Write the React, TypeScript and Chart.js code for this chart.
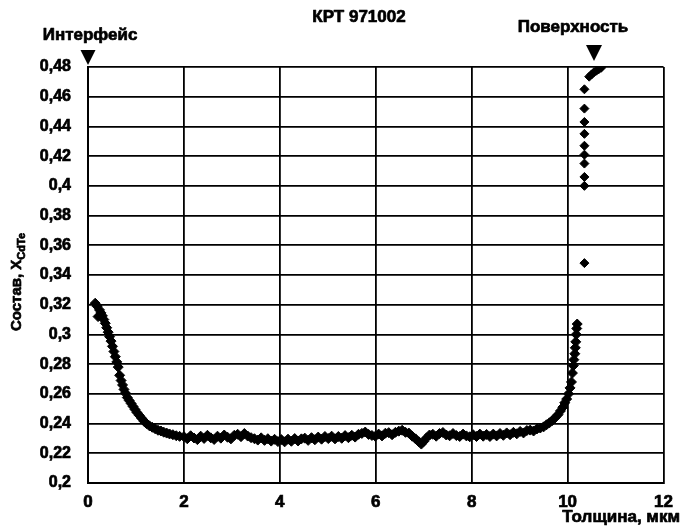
import { useEffect, useRef } from 'react';
import { Chart, registerables } from 'chart.js';

Chart.register(...registerables);

// Labels
const chartTitle = 'КРТ 971002';
const interfaceLabel = 'Интерфейс';
const surfaceLabel = 'Поверхность';
const xAxisTitle = 'Толщина, мкм';
const yAxisTitleMain = 'Состав, X';
const yAxisTitleSub = 'CdTe';

// Where the interface / surface markers sit along the thickness axis (µm)
const interfaceAt = 0;
const surfaceAt = 10.55;

// Axis ranges
const xMin = 0;
const xMax = 12;
const xStep = 2;
const yMin = 0.2;
const yMax = 0.48;
const yStep = 0.02;

// Depth profile of the layer: thickness (µm) and CdTe mole fraction
const thickness = [
  0.15, 0.19, 0.21, 0.24, 0.27, 0.30, 0.33, 0.36, 0.39, 0.42,
  0.45, 0.48, 0.51, 0.54, 0.57, 0.60, 0.63, 0.66, 0.69, 0.72,
  0.75, 0.78, 0.82, 0.86, 0.90, 0.94, 0.98, 1.02, 1.07, 1.12,
  1.17, 1.22, 1.28, 1.34, 1.40, 1.46, 1.52, 1.58, 1.64, 1.70,
  1.77, 1.84, 1.91,
  2.00, 2.07, 2.14, 2.21, 2.28, 2.35, 2.42, 2.49, 2.56, 2.63,
  2.70, 2.77, 2.84, 2.91, 2.98, 3.05, 3.12, 3.19, 3.26, 3.33,
  3.40, 3.47, 3.54, 3.61, 3.68, 3.75, 3.82, 3.89, 3.96, 4.03,
  4.10, 4.17, 4.24, 4.31, 4.38, 4.45, 4.52, 4.59, 4.66, 4.73,
  4.80, 4.87, 4.94, 5.01, 5.08, 5.15, 5.22, 5.29, 5.36, 5.43,
  5.50, 5.57, 5.64, 5.71, 5.78, 5.85, 5.92, 5.99, 6.06, 6.13,
  6.20, 6.27, 6.34, 6.41, 6.48, 6.55, 6.62, 6.69, 6.76, 6.83,
  6.90, 6.95, 7.00, 7.06, 7.12, 7.19, 7.26, 7.33, 7.40, 7.47,
  7.54, 7.61, 7.68, 7.75, 7.82, 7.89, 7.96, 8.03, 8.10, 8.17,
  8.24, 8.31, 8.38, 8.45, 8.52, 8.59, 8.66, 8.73, 8.80, 8.87,
  8.94, 9.01, 9.08, 9.15, 9.22, 9.29, 9.36, 9.43, 9.50, 9.56,
  9.62, 9.68, 9.74, 9.80, 9.85, 9.90, 9.94, 9.98, 10.02, 10.05,
  10.08, 10.10, 10.12, 10.13, 10.15, 10.16, 10.17, 10.18, 10.19, 10.20,
];

const composition = [
  0.3210, 0.3190, 0.3120, 0.3165, 0.3145, 0.3125, 0.3100, 0.3075, 0.3045, 0.3015,
  0.2985, 0.2955, 0.2920, 0.2885, 0.2850, 0.2815, 0.2780, 0.2725, 0.2690, 0.2660,
  0.2630, 0.2605, 0.2575, 0.2555, 0.2535, 0.2515, 0.2495, 0.2475, 0.2455, 0.2435,
  0.2415, 0.2400, 0.2385, 0.2375, 0.2365, 0.2355, 0.2350, 0.2342, 0.2336, 0.2330,
  0.2325, 0.2318, 0.2314,
  0.2312, 0.2298, 0.2318, 0.2303, 0.2292, 0.2315, 0.2300, 0.2321, 0.2304, 0.2293,
  0.2315, 0.2302, 0.2323, 0.2308, 0.2297, 0.2321, 0.2328, 0.2312, 0.2333, 0.2316,
  0.2305, 0.2298, 0.2289, 0.2304, 0.2287, 0.2298, 0.2282, 0.2294, 0.2279, 0.2292,
  0.2277, 0.2295, 0.2281, 0.2299, 0.2283, 0.2297, 0.2302, 0.2287, 0.2305, 0.2291,
  0.2309, 0.2295, 0.2313, 0.2299, 0.2315, 0.2297, 0.2313, 0.2301, 0.2319, 0.2305,
  0.2321, 0.2309, 0.2328, 0.2334, 0.2343, 0.2327, 0.2320, 0.2315, 0.2329, 0.2317,
  0.2335, 0.2339, 0.2325, 0.2341, 0.2349, 0.2355, 0.2341, 0.2336, 0.2315, 0.2297,
  0.2277, 0.2262, 0.2280, 0.2304, 0.2323, 0.2328, 0.2315, 0.2333, 0.2340, 0.2323,
  0.2318, 0.2333, 0.2319, 0.2313, 0.2329, 0.2317, 0.2311, 0.2325, 0.2313, 0.2329,
  0.2315, 0.2327, 0.2313, 0.2329, 0.2317, 0.2333, 0.2321, 0.2337, 0.2325, 0.2341,
  0.2331, 0.2347, 0.2337, 0.2353, 0.2356, 0.2350, 0.2364, 0.2370, 0.2378, 0.2392,
  0.2405, 0.2420, 0.2440, 0.2460, 0.2485, 0.2510, 0.2540, 0.2565, 0.2600, 0.2640,
  0.2680, 0.2740, 0.2790, 0.2830, 0.2870, 0.2910, 0.2950, 0.3000, 0.3040, 0.3070,
];

// Near-surface points
const surfaceThickness = [
  10.35, 10.35, 10.35, 10.35, 10.35, 10.35, 10.35, 10.35, 10.35, 10.35,
  10.45, 10.50, 10.55, 10.60, 10.65, 10.70,
];
const surfaceComposition = [
  0.3480, 0.4000, 0.4060, 0.4150, 0.4210, 0.4270, 0.4350, 0.4430, 0.4520, 0.4650,
  0.4735, 0.4750, 0.4765, 0.4775, 0.4785, 0.4795,
];

const FONT = '"Liberation Sans", Arial, Helvetica, sans-serif';

const formatComma = (v: number) => String(parseFloat(v.toFixed(2))).replace('.', ',');

function drawDownTriangle(ctx: CanvasRenderingContext2D, x: number, apexY: number, w: number, h: number) {
  ctx.beginPath();
  ctx.moveTo(x - w / 2, apexY - h);
  ctx.lineTo(x + w / 2, apexY - h);
  ctx.lineTo(x, apexY);
  ctx.closePath();
  ctx.fill();
}

// heavy text: fill plus a thin outline of the same colour
function boldText(ctx: CanvasRenderingContext2D, text: string, x: number, y: number) {
  ctx.fillText(text, x, y);
  ctx.strokeText(text, x, y);
}

const annotationPlugin = {
  id: 'profileAnnotations',
  afterDraw(chart: any) {
    const { ctx, chartArea, scales } = chart;
    ctx.save();
    ctx.fillStyle = '#000';
    ctx.strokeStyle = '#000';
    ctx.lineWidth = 0.7;
    ctx.lineJoin = 'round';
    ctx.font = `bold 17px ${FONT}`;
    ctx.textAlign = 'center';
    ctx.textBaseline = 'middle';

    // title
    boldText(ctx, chartTitle, 359, 17);

    // interface marker
    const xi = scales.x.getPixelForValue(interfaceAt);
    boldText(ctx, interfaceLabel, xi + 2, 35);
    drawDownTriangle(ctx, xi, chartArea.top - 2, 15, 15);

    // surface marker
    const xs = scales.x.getPixelForValue(surfaceAt);
    boldText(ctx, surfaceLabel, xs - 21, 27);
    drawDownTriangle(ctx, xs, chartArea.top - 6, 16, 16);

    // x axis title
    ctx.textAlign = 'right';
    boldText(ctx, xAxisTitle, 680, 517);

    // y axis title with subscript
    ctx.translate(17, 282);
    ctx.rotate(-Math.PI / 2);
    ctx.font = `bold 15px ${FONT}`;
    const mainW = ctx.measureText(yAxisTitleMain).width;
    ctx.font = `bold 11px ${FONT}`;
    const subW = ctx.measureText(yAxisTitleSub).width;
    const total = mainW + subW;
    ctx.textAlign = 'left';
    ctx.font = `bold 15px ${FONT}`;
    boldText(ctx, yAxisTitleMain, -total / 2, 0);
    ctx.font = `bold 11px ${FONT}`;
    boldText(ctx, yAxisTitleSub, -total / 2 + mainW, 5);
    ctx.restore();
  },
};

export default function App() {
  const canvasRef = useRef<HTMLCanvasElement | null>(null);

  useEffect(() => {
    const canvas = canvasRef.current;
    if (!canvas) return;

    const points = thickness.map((t, i) => ({ x: t, y: composition[i] }));
    const surfacePoints = surfaceThickness.map((t, i) => ({ x: t, y: surfaceComposition[i] }));

    const markerStyle = {
      showLine: false,
      pointStyle: 'rectRot' as const,
      pointBackgroundColor: '#000',
      pointBorderColor: '#000',
      pointBorderWidth: 1,
      backgroundColor: '#000',
      borderColor: '#000',
    };

    const chart = new Chart(canvas, {
      type: 'scatter',
      data: {
        datasets: [
          { label: 'profile', data: points, pointRadius: 5, ...markerStyle },
          { label: 'surface', data: surfacePoints, pointRadius: 4.5, ...markerStyle },
        ],
      },
      options: {
        animation: false,
        responsive: false,
        maintainAspectRatio: false,
        layout: { padding: { top: 67, right: 15, left: 0, bottom: 0 } },
        plugins: {
          legend: { display: false },
          title: { display: false },
          tooltip: { enabled: false },
        },
        scales: {
          x: {
            type: 'linear',
            min: xMin,
            max: xMax,
            afterFit: (s: any) => { s.height = 44; },
            ticks: {
              stepSize: xStep,
              color: '#000',
              padding: 9,
              maxRotation: 0,
              textStrokeColor: '#000',
              textStrokeWidth: 0.7,
              font: { family: FONT, size: 17, weight: 'bold' },
            },
            grid: { color: '#000', lineWidth: 1.8, drawTicks: false },
            border: { display: true, color: '#000', width: 2 },
          },
          y: {
            type: 'linear',
            min: yMin,
            max: yMax,
            afterFit: (s: any) => { s.width = 88; },
            ticks: {
              stepSize: yStep,
              color: '#000',
              padding: 17,
              textStrokeColor: '#000',
              textStrokeWidth: 0.7,
              callback: (v: any) => formatComma(Number(v)),
              font: { family: FONT, size: 16, weight: 'bold' },
            },
            grid: { color: '#000', lineWidth: 1.8, drawTicks: false },
            border: { display: true, color: '#000', width: 2 },
          },
        },
      },
      plugins: [annotationPlugin],
    });

    return () => chart.destroy();
  }, []);

  return (
    <div style={{ position: 'fixed', left: 0, top: 0, width: 682, height: 527, background: '#fff' }}>
      <canvas ref={canvasRef} width={682} height={527} />
    </div>
  );
}
